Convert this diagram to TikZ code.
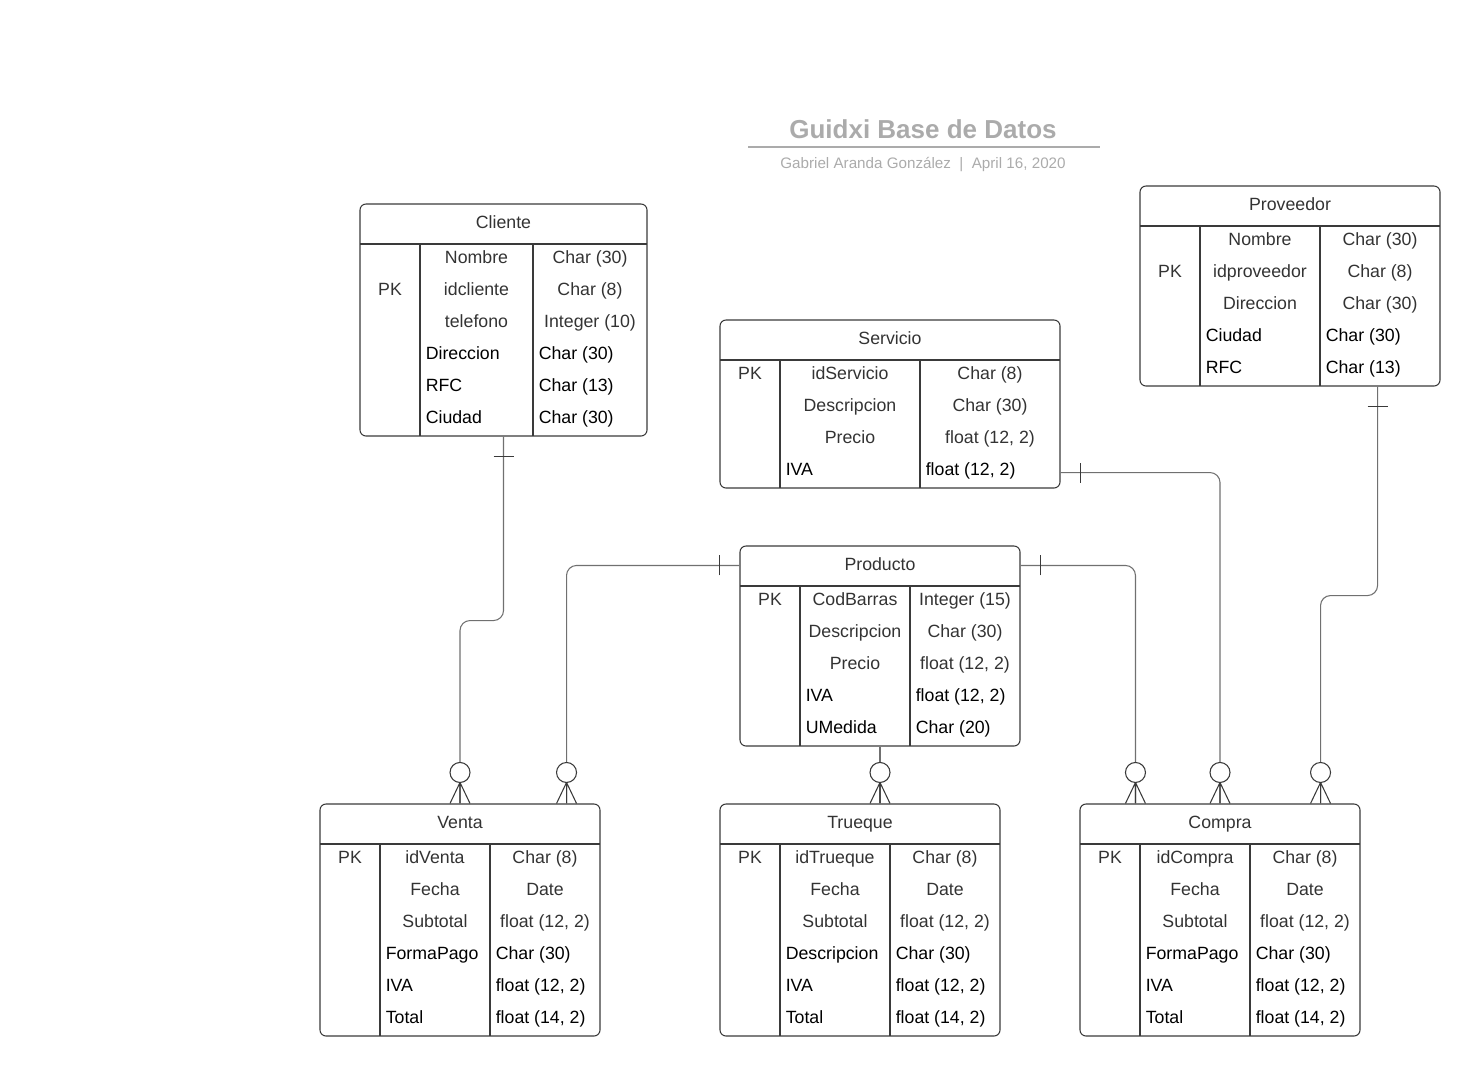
\documentclass[tikz,border=0pt]{standalone}
\usepackage{fontspec}
\setmainfont{Liberation Sans}
\usepackage{tikz}
\usetikzlibrary{fit,calc}

\definecolor{boxgray}{HTML}{3A3A3A}
\definecolor{txtgray}{HTML}{333333}
\definecolor{linegray}{HTML}{707070}
\definecolor{titlegray}{HTML}{ABABAB}

\begin{document}
\begin{tikzpicture}[x=0.75pt,y=-0.75pt,
        tbl/.style={draw=boxgray, line width=0.8pt, rounded corners=4.5pt, inner sep=0pt},
        tblline/.style={draw=boxgray, line width=0.8pt},
        cell/.style={anchor=base, inner sep=0pt, text=txtgray, font=\fontsize{13.3}{16}\selectfont},
        lcell/.style={cell, anchor=base west, text=black},
        conn/.style={draw=linegray, line width=0.8pt, rounded corners=7.5pt},
        endmark/.style={draw=boxgray, line width=0.8pt},
        one/.pic={\draw[endmark] (-10,0) -- (10,0);},
        many/.pic={\draw[endmark] (-10,0) -- (0,-21) -- (10,0) (0,0) -- (0,-21);
                   \draw[endmark,fill=white] (0,-31) circle[radius=7.5pt];}]
        \useasboundingbox (0,0) rectangle (1480,1076);

        % title
        \node[anchor=base, inner sep=0pt, text=titlegray, font=\fontsize{19.5}{22}\selectfont\bfseries] (title) at (923,138) {Guidxi Base de Datos};
        \draw[titlegray, line width=1.4pt] (748,147) -- (1100,147);
        \node[anchor=base, inner sep=0pt, text=titlegray, font=\fontsize{11.4}{14}\selectfont] (subtitle) at (923,168) {Gabriel Aranda González \ | \ April 16, 2020};

        % Cliente
        \node[tbl, fit={(360,204)(647,436)}] (cliente) {};
        \draw[tblline] (360,244) -- (647,244) (420,244) -- (420,436) (533,244) -- (533,436);
        \node[cell] at (503.5,228) {Cliente};
        \node[cell] at (390,295) {PK};
        \foreach \n/\t [count=\i from 0] in {Nombre/Char (30), idcliente/Char (8), telefono/Integer (10)}
            {\node[cell] at (476.5,263+32*\i) {\n}; \node[cell] at (590,263+32*\i) {\t};}
        \foreach \n/\t [count=\i from 3] in {Direccion/Char (30), RFC/Char (13), Ciudad/Char (30)}
            {\node[lcell] at (425.5,263+32*\i) {\n}; \node[lcell] at (538.5,263+32*\i) {\t};}

        % Proveedor
        \node[tbl, fit={(1140,186)(1440,386)}] (proveedor) {};
        \draw[tblline] (1140,226) -- (1440,226) (1200,226) -- (1200,386) (1320,226) -- (1320,386);
        \node[cell] at (1290,210) {Proveedor};
        \node[cell] at (1170,277) {PK};
        \foreach \n/\t [count=\i from 0] in {Nombre/Char (30), idproveedor/Char (8), Direccion/Char (30)}
            {\node[cell] at (1260,245+32*\i) {\n}; \node[cell] at (1380,245+32*\i) {\t};}
        \foreach \n/\t [count=\i from 3] in {Ciudad/Char (30), RFC/Char (13)}
            {\node[lcell] at (1205.5,245+32*\i) {\n}; \node[lcell] at (1325.5,245+32*\i) {\t};}

        % Servicio
        \node[tbl, fit={(720,320)(1060,488)}] (servicio) {};
        \draw[tblline] (720,360) -- (1060,360) (780,360) -- (780,488) (920,360) -- (920,488);
        \node[cell] at (890,344) {Servicio};
        \node[cell] at (750,379) {PK};
        \foreach \n/\t [count=\i from 0] in {idServicio/Char (8), Descripcion/Char (30), Precio/{float (12, 2)}}
            {\node[cell] at (850,379+32*\i) {\n}; \node[cell] at (990,379+32*\i) {\t};}
        \node[lcell] at (785.5,475) {IVA};
        \node[lcell] at (925.5,475) {float (12, 2)};

        % Producto
        \node[tbl, fit={(740,546)(1020,746)}] (producto) {};
        \draw[tblline] (740,586) -- (1020,586) (800,586) -- (800,746) (910,586) -- (910,746);
        \node[cell] at (880,570) {Producto};
        \node[cell] at (770,605) {PK};
        \foreach \n/\t [count=\i from 0] in {CodBarras/Integer (15), Descripcion/Char (30), Precio/{float (12, 2)}}
            {\node[cell] at (855,605+32*\i) {\n}; \node[cell] at (965,605+32*\i) {\t};}
        \foreach \n/\t [count=\i from 3] in {IVA/{float (12, 2)}, UMedida/Char (20)}
            {\node[lcell] at (805.5,605+32*\i) {\n}; \node[lcell] at (915.5,605+32*\i) {\t};}

        % Venta
        \node[tbl, fit={(320,804)(600,1036)}] (venta) {};
        \draw[tblline] (320,844) -- (600,844) (380,844) -- (380,1036) (490,844) -- (490,1036);
        \node[cell] at (460,828) {Venta};
        \node[cell] at (350,863) {PK};
        \foreach \n/\t [count=\i from 0] in {idVenta/Char (8), Fecha/Date, Subtotal/{float (12, 2)}}
            {\node[cell] at (435,863+32*\i) {\n}; \node[cell] at (545,863+32*\i) {\t};}
        \foreach \n/\t [count=\i from 3] in {FormaPago/Char (30), IVA/{float (12, 2)}, Total/{float (14, 2)}}
            {\node[lcell] at (385.5,863+32*\i) {\n}; \node[lcell] at (495.5,863+32*\i) {\t};}

        % Trueque
        \node[tbl, fit={(720,804)(1000,1036)}] (trueque) {};
        \draw[tblline] (720,844) -- (1000,844) (780,844) -- (780,1036) (890,844) -- (890,1036);
        \node[cell] at (860,828) {Trueque};
        \node[cell] at (750,863) {PK};
        \foreach \n/\t [count=\i from 0] in {idTrueque/Char (8), Fecha/Date, Subtotal/{float (12, 2)}}
            {\node[cell] at (835,863+32*\i) {\n}; \node[cell] at (945,863+32*\i) {\t};}
        \foreach \n/\t [count=\i from 3] in {Descripcion/Char (30), IVA/{float (12, 2)}, Total/{float (14, 2)}}
            {\node[lcell] at (785.5,863+32*\i) {\n}; \node[lcell] at (895.5,863+32*\i) {\t};}

        % Compra
        \node[tbl, fit={(1080,804)(1360,1036)}] (compra) {};
        \draw[tblline] (1080,844) -- (1360,844) (1140,844) -- (1140,1036) (1250,844) -- (1250,1036);
        \node[cell] at (1220,828) {Compra};
        \node[cell] at (1110,863) {PK};
        \foreach \n/\t [count=\i from 0] in {idCompra/Char (8), Fecha/Date, Subtotal/{float (12, 2)}}
            {\node[cell] at (1195,863+32*\i) {\n}; \node[cell] at (1305,863+32*\i) {\t};}
        \foreach \n/\t [count=\i from 3] in {FormaPago/Char (30), IVA/{float (12, 2)}, Total/{float (14, 2)}}
            {\node[lcell] at (1145.5,863+32*\i) {\n}; \node[lcell] at (1255.5,863+32*\i) {\t};}

        % connector ends
        \coordinate (pl) at ($(producto.north west)+(0,20)$);
        \coordinate (pr) at ($(producto.north east)+(0,20)$);
        \coordinate (sr) at ($(servicio.south east)+(0,-16)$);
        \coordinate (pb) at ($(proveedor.south east)+(-63,0)$);
        \coordinate (vr) at ($(venta.north east)+(-34,0)$);
        \coordinate (cl) at ($(compra.north west)+(56,0)$);
        \coordinate (cr) at ($(compra.north east)+(-40,0)$);
        \coordinate (tt) at (producto.south |- trueque.north);

        % relations
        \draw[conn] (cliente.south) -- ++(0,184) -| (venta.north);
        \draw[conn] (pl) -| (vr);
        \draw[conn] (pr) -| (cl);
        \draw[conn] (sr) -| (compra.north);
        \draw[conn] (pb) -- ++(0,209) -| (cr);
        \draw[conn] (producto.south) -- (tt);

        \pic at ($(cliente.south)+(0,20)$) {one};
        \pic[rotate=90] at ($(pl)+(-20,0)$) {one};
        \pic[rotate=90] at ($(pr)+(20,0)$) {one};
        \pic[rotate=90] at ($(sr)+(20,0)$) {one};
        \pic at ($(pb)+(0,20)$) {one};
        \pic at (venta.north) {many};
        \pic at (vr) {many};
        \pic at (tt) {many};
        \pic at (cl) {many};
        \pic at (compra.north) {many};
        \pic at (cr) {many};
\end{tikzpicture}
\end{document}
